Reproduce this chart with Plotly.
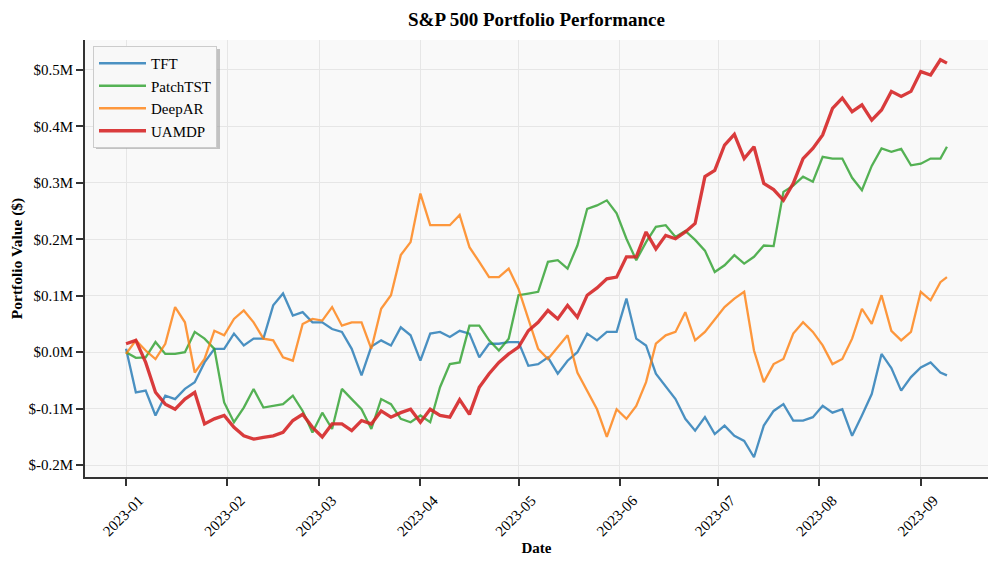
import pandas as pd
import plotly.graph_objects as go

START_DATE = "2023-01-01"
DAY_OFFSETS = list(range(0, 250, 3)) + [251]

TFT = [6, -71, -68, -112, -77, -83, -65, -53, -18, 6,
       6, 33, 12, 24, 24, 83, 104, 65, 71, 53,
       53, 41, 36, 6, -41, 10, 21, 12, 44, 30,
       -15, 33, 36, 27, 38, 33, -9, 15, 15, 18,
       18, -24, -21, -9, -38, -15, 0, 33, 21, 36,
       36, 95, 24, 12, -38, -60, -83, -118, -139, -115,
       -145, -130, -148, -157, -186, -130, -104, -92, -121, -121,
       -115, -95, -107, -101, -148, -112, -74, -3, -28, -68,
       -44, -27, -18, -36, -41]

PATCHTST = [0, -10, -9, 18, -3, -3, 0, 36, 24, 6,
            -89, -124, -98, -65, -98, -95, -92, -77, -104, -142,
            -107, -136, -65, -83, -101, -136, -83, -92, -118, -124,
            -112, -124, -62, -21, -18, 47, 47, 21, 3, 24,
            101, 104, 107, 160, 163, 148, 189, 254, 260, 269,
            246, 201, 163, 195, 222, 225, 204, 215, 199, 180,
            142, 154, 172, 157, 169, 189, 188, 284, 295, 311,
            302, 346, 343, 343, 309, 287, 330, 361, 355, 360,
            331, 334, 343, 343, 364]

DEEPAR = [-3, 21, 3, -12, 15, 80, 53, -36, -12, 38,
          30, 59, 74, 53, 24, 21, -9, -15, 50, 59,
          56, 80, 47, 53, 53, 6, 77, 101, 172, 195,
          281, 225, 225, 225, 243, 186, 160, 133, 133, 148,
          112, 59, 6, -12, 9, 30, -36, -68, -101, -150,
          -101, -118, -95, -53, 15, 30, 36, 71, 21, 36,
          59, 80, 95, 107, 3, -53, -21, -12, 33, 53,
          36, 12, -21, -12, 24, 77, 50, 101, 38, 21,
          36, 107, 92, 124, 133]

UAMDP = [15, 21, -18, -71, -92, -101, -83, -71, -127, -118,
         -112, -133, -148, -154, -151, -148, -142, -121, -110, -133,
         -150, -127, -127, -139, -121, -127, -104, -115, -107, -101,
         -124, -101, -112, -115, -84, -110, -62, -38, -18, -3,
         9, 38, 53, 74, 59, 83, 62, 101, 114, 130,
         133, 169, 169, 213, 183, 207, 201, 213, 228, 311,
         322, 367, 386, 343, 364, 299, 288, 269, 299, 343,
         361, 385, 432, 450, 426, 438, 411, 429, 462, 453,
         462, 497, 491, 518, 512]

Y_TICK_VALUES = [-200, -100, 0, 100, 200, 300, 400, 500]
Y_TICK_LABELS = ["$-0.2M", "$-0.1M", "$0.0M", "$0.1M", "$0.2M", "$0.3M", "$0.4M", "$0.5M"]

SERIES = [
    ("TFT", TFT, "#1f77b4", 2.3, 0.8),
    ("PatchTST", PATCHTST, "#2ca02c", 2.3, 0.8),
    ("DeepAR", DEEPAR, "#ff7f0e", 2.3, 0.8),
    ("UAMDP", UAMDP, "#d62728", 3.3, 0.9),
]

dates = pd.Timestamp(START_DATE) + pd.to_timedelta(DAY_OFFSETS, unit="D")

FONT = "Liberation Serif"

fig = go.Figure()
for name, vals, color, width, op in SERIES:
    fig.add_trace(go.Scatter(
        x=dates, y=vals, name=name, mode="lines",
        line=dict(color=color, width=width), opacity=op,
    ))

# the page body has an 8px margin, so the figure is drawn 8px right/down
PAGE_OFF = 8
W, H = 996 - PAGE_OFF, 563 - PAGE_OFF
plot_left, plot_right, plot_top, plot_bottom = 85, 988, 40, 477
ml = plot_left - PAGE_OFF
mt = plot_top - PAGE_OFF
mr = 996 - plot_right
mb = 563 - plot_bottom
pw, ph = plot_right - plot_left, plot_bottom - plot_top

def px_to_paper(x, y):
    return (x - plot_left) / pw, (plot_bottom - y) / ph

# legend and its shadow
lx, ly = px_to_paper(93, 46)
sx0, sy0 = px_to_paper(96, 149)
sx1, sy1 = px_to_paper(220, 49)

fig.update_layout(
    width=W, height=H,
    margin=dict(l=ml, r=mr, t=mt, b=mb, autoexpand=False),
    paper_bgcolor="white",
    plot_bgcolor="#f9f9f9",
    font=dict(family=FONT, size=15, color="black"),
    title=dict(text="<b>S&P 500 Portfolio Performance</b>", x=0.5, xref="paper",
               y=1 - 11 / H, yanchor="middle", font=dict(size=19, family=FONT)),
    showlegend=True,
    legend=dict(x=lx, y=ly, xanchor="left", yanchor="top",
                bgcolor="rgba(248,248,248,1)", bordercolor="#cccccc", borderwidth=1,
                font=dict(size=15, family=FONT), tracegroupgap=0, itemwidth=47),
    shapes=[dict(type="rect", xref="paper", yref="paper", x0=sx0, x1=sx1, y0=sy0, y1=sy1,
                 fillcolor="rgba(150,150,150,0.55)", line=dict(width=0), layer="above")],
)

fig.update_xaxes(
    type="date", automargin=False,
    range=["2022-12-19 10:48", "2023-09-21 13:12"],
    dtick="M1", tick0="2023-01-01", tickformat="%Y-%m", tickangle=-45,
    ticklabelshift=13,
    ticks="outside", ticklen=7, tickwidth=1.5, tickcolor="#333333",
    showline=True, linecolor="#333333", linewidth=2, mirror=False,
    showgrid=True, gridcolor="#e6e6e6", gridwidth=1, zeroline=False,
    tickfont=dict(size=15, family=FONT),
    title=dict(text="<b>Date</b>", font=dict(size=15, family=FONT), standoff=4),
)
fig.update_yaxes(
    automargin=False,
    range=[-221, 553],
    tickvals=Y_TICK_VALUES, ticktext=Y_TICK_LABELS,
    ticks="outside", ticklen=7, tickwidth=1.5, tickcolor="#333333",
    showline=True, linecolor="#333333", linewidth=2, mirror=False,
    showgrid=True, gridcolor="#e6e6e6", gridwidth=1, zeroline=False,
    tickfont=dict(size=15, family=FONT),
    title=dict(text="<b>Portfolio Value ($)</b>", font=dict(size=15.5, family=FONT), standoff=6),
)

fig.write_html("out.html")
